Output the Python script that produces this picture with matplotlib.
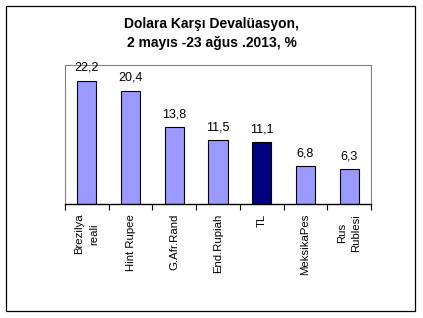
import matplotlib
matplotlib.use("Agg")
from matplotlib import pyplot as plt
from matplotlib.patches import Rectangle

plt.rcParams['font.family'] = ['Liberation Sans', 'DejaVu Sans']

categories = ['Brezilya\nreali', 'Hint Rupee', 'G.Afr.Rand', 'End.Rupiah', 'TL', 'MeksikaPes', 'Rus\nRublesi']
values = [22.2, 20.4, 13.8, 11.5, 11.1, 6.8, 6.3]
value_labels = ['22,2', '20,4', '13,8', '11,5', '11,1', '6,8', '6,3']
colors = ['#9999FF'] * 4 + ['#000080'] + ['#9999FF'] * 2

fig = plt.figure(figsize=(4.23, 3.18), dpi=100)
ax = fig.add_axes([65 / 423, 1 - 204 / 318, 306 / 423, 139 / 318])

x = list(range(len(values)))
ax.bar(x, values, width=0.44, color=colors, edgecolor='black', linewidth=0.8)
for xi, v, lab in zip(x, values, value_labels):
    ax.annotate(lab, (xi, v), xytext=(0, 5), textcoords='offset points',
                ha='center', va='bottom', fontsize=9)

ax.set_xlim(-0.5, len(values) - 0.5)
ax.set_ylim(0, 25)
ax.set_yticks([])
# ticks sit on the category boundaries, labels at the category centres
ax.set_xticks([i - 0.5 for i in range(len(values) + 1)], minor=False)
ax.set_xticklabels([])
ax.set_xticks(x, minor=True)
ax.set_xticklabels(categories, minor=True, rotation=90, fontsize=8.2, ha='center', va='top',
                   multialignment='center', linespacing=1.6)
ax.tick_params(axis='x', which='major', direction='out', length=4, color='black')
ax.tick_params(axis='x', which='minor', length=0, pad=7)
for side in ['top', 'right', 'left']:
    ax.spines[side].set_color('#808080')
    ax.spines[side].set_linewidth(0.8)
ax.spines['bottom'].set_color('black')
ax.spines['bottom'].set_linewidth(1.0)

fig.text(0.5, 1 - 24 / 318, 'Dolara Karşı Devalüasyon,', ha='center', va='center', fontsize=10, fontweight='bold')
fig.text(0.5, 1 - 43 / 318, '2 mayıs -23 ağus .2013, %', ha='center', va='center', fontsize=10, fontweight='bold')

fig.patches.append(Rectangle((6 / 423, 1 - 311 / 318), 409 / 423, 305 / 318, transform=fig.transFigure,
                             fill=False, edgecolor='black', linewidth=0.9))

fig.savefig('out.png', dpi=100)
